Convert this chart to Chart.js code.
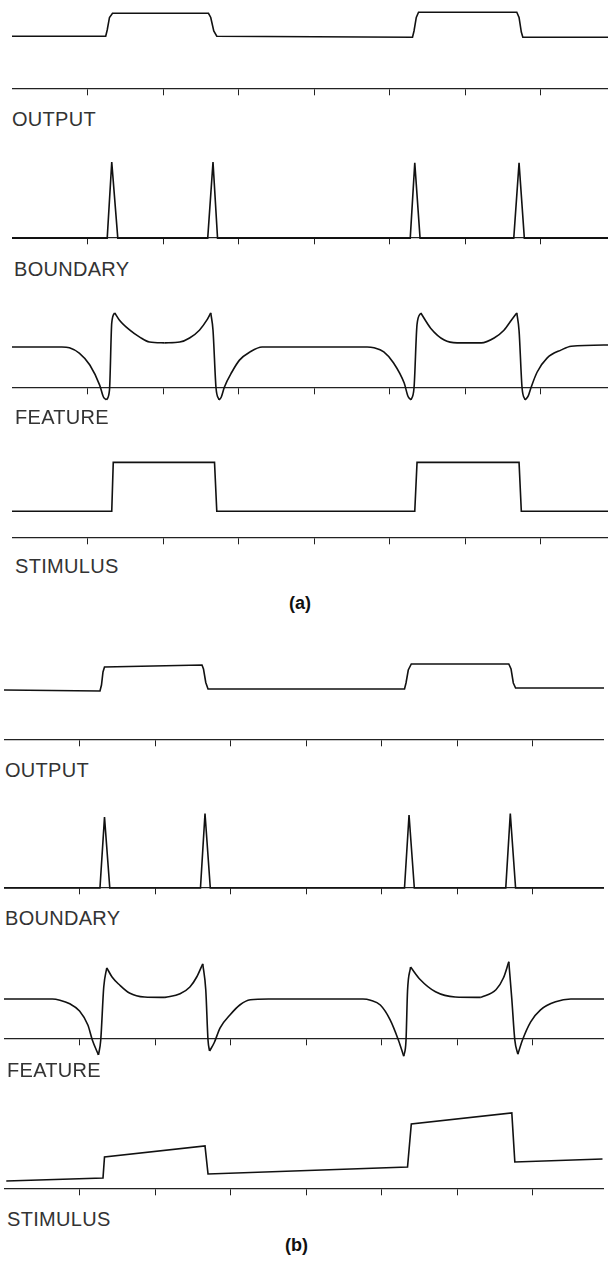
<!DOCTYPE html>
<html>
<head>
<meta charset="utf-8">
<script src="https://cdn.jsdelivr.net/npm/chart.js@4.4.1/dist/chart.umd.min.js"></script>
<style>
  html, body { margin: 0; padding: 0; background: #fff; }
  body { width: 608px; height: 1273px; position: relative; overflow: hidden;
         font-family: "Liberation Sans", Arial, sans-serif; }
  canvas { position: absolute; }
  .lbl { position: absolute; font-size: 20px; line-height: 20px; color: #333; white-space: nowrap; letter-spacing: 0.3px; }
  .cap { position: absolute; font-size: 18px; line-height: 20px; font-weight: bold; color: #111; }
</style>
</head>
<body>
<script>
// x values are in tick units, ticks sit at 1..7
var xTicks = [1, 2, 3, 4, 5, 6, 7];
var rowLabels = ['OUTPUT', 'BOUNDARY', 'FEATURE', 'STIMULUS'];
var panelCaptions = ['(a)', '(b)'];

// ---- panel (a) ----
var outAX = [0, 1.24, 1.26, 1.29, 1.33, 2.60, 2.63, 2.67, 2.71, 5.30, 5.32, 5.35, 5.38, 6.68, 6.71, 6.74, 6.76, 7.94];
var outAY = [1.0, 1.0, 1.12, 1.36, 1.44, 1.44, 1.36, 1.10, 1.0, 0.98, 1.10, 1.36, 1.46, 1.46, 1.36, 1.08, 0.98, 0.98];

var bndAX = [0, 1.26, 1.32, 1.40, 2.59, 2.66, 2.72, 5.27, 5.33, 5.40, 6.64, 6.71, 6.78, 7.94];
var bndAY = [0, 0, 1.0, 0, 0, 1.0, 0, 0, 0.99, 0, 0, 0.99, 0, 0];

var featAX = [0, 0.66, 0.76, 0.89, 1.03, 1.16, 1.21, 1.25, 1.29, 1.32, 1.36, 1.42, 1.56, 1.69, 1.82, 2.02, 2.22, 2.35, 2.48, 2.58, 2.63,
              2.66, 2.70, 2.74, 2.77, 2.81, 2.91, 3.01, 3.15, 3.31,
              4.70, 4.79, 4.92, 5.05, 5.19, 5.24, 5.28, 5.32, 5.36, 5.41, 5.54, 5.72, 5.89, 6.21, 6.38, 6.51, 6.61, 6.68,
              6.71, 6.75, 6.79, 6.83, 6.87, 6.95, 7.08, 7.27, 7.40, 7.94];
var featAY = [1.0, 1.0, 0.98, 0.85, 0.56, 0.07, -0.22, -0.29, -0.05, 1.59, 1.83, 1.66, 1.41, 1.24, 1.12, 1.10, 1.12, 1.22, 1.41, 1.66, 1.83,
              1.41, 0, -0.29, -0.22, 0.02, 0.39, 0.68, 0.88, 1.0,
              1.0, 0.98, 0.88, 0.61, 0.12, -0.20, -0.29, 0, 1.55, 1.83, 1.46, 1.17, 1.10, 1.10, 1.22, 1.41, 1.66, 1.83,
              1.40, 0, -0.29, -0.20, 0.02, 0.39, 0.73, 0.93, 1.02, 1.05];

var stimAX = [0, 1.32, 1.34, 2.68, 2.71, 5.33, 5.36, 6.71, 6.74, 7.94];
var stimAY = [1, 1, 2.88, 2.88, 1, 1, 2.88, 2.88, 1, 1];

// ---- panel (b) ----
var outBX = [0, 1.27, 1.29, 1.31, 1.33, 2.62, 2.64, 2.67, 2.70, 5.30, 5.32, 5.35, 5.39, 6.68, 6.71, 6.74, 6.77, 7.94];
var outBY = [1.0, 0.98, 1.10, 1.36, 1.46, 1.50, 1.42, 1.15, 1.02, 1.02, 1.14, 1.40, 1.52, 1.52, 1.42, 1.14, 1.04, 1.04];

var bndBX = [0, 1.27, 1.33, 1.40, 2.60, 2.66, 2.73, 5.30, 5.36, 5.43, 6.64, 6.70, 6.77, 7.94];
var bndBY = [0, 0, 0.97, 0, 0, 1.02, 0, 0, 1.0, 0, 0, 1.02, 0, 0];

var featBX = [0, 0.64, 0.74, 0.87, 1.00, 1.11, 1.17, 1.25, 1.28, 1.32, 1.36, 1.43, 1.53, 1.66, 1.86, 2.13, 2.33, 2.46, 2.55, 2.63,
              2.67, 2.70, 2.72, 2.78, 2.86, 2.99, 3.12, 3.26, 3.50,
              4.75, 4.85, 4.98, 5.11, 5.22, 5.29, 5.32, 5.34, 5.38, 5.51, 5.71, 5.97, 6.31, 6.51, 6.61, 6.68,
              6.72, 6.76, 6.80, 6.86, 6.97, 7.10, 7.30, 7.50, 7.94];
var featBY = [1.0, 1.0, 0.97, 0.88, 0.70, 0.35, -0.03, -0.40, -0.03, 1.30, 1.78, 1.55, 1.35, 1.15, 1.05, 1.04, 1.13, 1.30, 1.55, 1.88,
              1.23, -0.03, -0.30, -0.10, 0.28, 0.60, 0.85, 0.98, 1.0,
              1.0, 0.97, 0.85, 0.48, -0.03, -0.43, -0.03, 1.20, 1.80, 1.48, 1.18, 1.05, 1.04, 1.23, 1.53, 1.93,
              1.0, -0.03, -0.38, -0.03, 0.43, 0.73, 0.93, 1.0, 1.0];

var stimBX = [0.03, 1.31, 1.33, 2.66, 2.70, 5.34, 5.39, 6.72, 6.76, 7.92];
var stimBY = [0.8, 1.1, 3.2, 4.3, 1.5, 2.2, 6.5, 7.6, 2.7, 3.0];

// layout of the two panels (pixels)
var xMax = 7.94;
var plotWidth = 600;
var panels = [
  { left: 12, captionX: 289, captionTop: 593, rows: [
    { xs: outAX,  ys: outAY,  axisPx: 88,  ppu: 52, yMin: -0.25, yMax: 1.6,  labelLeft: 12, labelTop: 112 },
    { xs: bndAX,  ys: bndAY,  axisPx: 238, ppu: 76, yMin: -0.15, yMax: 1.12, labelLeft: 14, labelTop: 262 },
    { xs: featAX, ys: featAY, axisPx: 388, ppu: 41, yMin: -0.5,  yMax: 2.0,  labelLeft: 15, labelTop: 410, smooth: true },
    { xs: stimAX, ys: stimAY, axisPx: 537, ppu: 26, yMin: -0.4,  yMax: 3.05, labelLeft: 15, labelTop: 559 }
  ]},
  { left: 4, captionX: 285, captionTop: 1235, rows: [
    { xs: outBX,  ys: outBY,  axisPx: 740,  ppu: 50, yMin: -0.25, yMax: 1.7,  labelLeft: 5, labelTop: 763 },
    { xs: bndBX,  ys: bndBY,  axisPx: 888,  ppu: 73, yMin: -0.15, yMax: 1.15, labelLeft: 5, labelTop: 911 },
    { xs: featBX, ys: featBY, axisPx: 1039, ppu: 40, yMin: -0.6,  yMax: 2.1,  labelLeft: 7, labelTop: 1063, smooth: true },
    { xs: stimBX, ys: stimBY, axisPx: 1189, ppu: 10, yMin: -1.5,  yMax: 8.0,  labelLeft: 7, labelTop: 1212 }
  ]}
];

function addText(cls, text, left, top) {
  var d = document.createElement('div');
  d.className = cls;
  d.textContent = text;
  d.style.left = left + 'px';
  d.style.top = top + 'px';
  document.body.appendChild(d);
}

// split a curve at its turning points so peaks and dips stay sharp
function pieces(xs, ys, smooth) {
  var pts = xs.map(function (x, i) { return { x: x, y: ys[i] }; });
  if (!smooth) return [pts];
  var out = [], cur = [pts[0]];
  for (var i = 1; i < pts.length; i++) {
    cur.push(pts[i]);
    if (i < pts.length - 1 && (ys[i] - ys[i - 1]) * (ys[i + 1] - ys[i]) < 0) {
      out.push(cur);
      cur = [pts[i]];
    }
  }
  out.push(cur);
  return out;
}

function drawRow(panel, row) {
  var h = Math.round((row.yMax - row.yMin) * row.ppu);
  var top = row.axisPx - row.yMax * row.ppu;
  var yMin = row.yMax - h / row.ppu;

  var cv = document.createElement('canvas');
  cv.width = plotWidth;
  cv.height = h;
  cv.style.left = panel.left + 'px';
  cv.style.top = top + 'px';
  cv.style.width = plotWidth + 'px';
  cv.style.height = h + 'px';
  document.body.appendChild(cv);

  var datasets = pieces(row.xs, row.ys, row.smooth).map(function (p) {
    return {
      data: p,
      borderColor: '#111',
      borderWidth: 1.6,
      pointRadius: 0,
      fill: false,
      tension: 0,
      cubicInterpolationMode: row.smooth ? 'monotone' : 'default',
      clip: false
    };
  });

  new Chart(cv, {
    type: 'line',
    data: { datasets: datasets },
    options: {
      responsive: false,
      animation: false,
      devicePixelRatio: 1,
      layout: { padding: 0 },
      plugins: { legend: { display: false }, tooltip: { enabled: false } },
      scales: {
        x: {
          type: 'linear',
          min: 0,
          max: xMax,
          position: { y: 0 },
          afterBuildTicks: function (axis) {
            axis.ticks = xTicks.map(function (v) { return { value: v }; });
          },
          ticks: { display: false },
          grid: { display: true, drawOnChartArea: false, drawTicks: true, tickLength: 6, color: '#222', lineWidth: 1 },
          border: { display: true, color: '#222', width: 1.3 }
        },
        y: { display: false, min: yMin, max: row.yMax }
      }
    }
  });
}

panels.forEach(function (panel, p) {
  panel.rows.forEach(function (row, r) {
    drawRow(panel, row);
    addText('lbl', rowLabels[r], row.labelLeft, row.labelTop - 3);
  });
  addText('cap', panelCaptions[p], panel.captionX, panel.captionTop);
});
</script>
</body>
</html>
